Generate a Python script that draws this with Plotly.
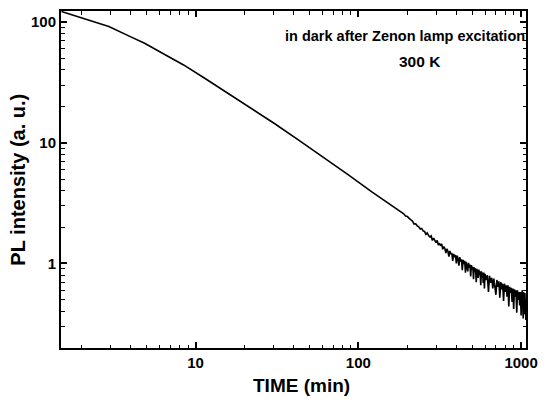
import plotly.graph_objects as go

# smooth early part
t_early = [1.5, 2.0, 2.93, 4.0, 4.86, 6.5, 8.44, 11.5, 15.3, 21, 30.5, 43, 60.9, 86, 121, 135]
pl_early = [121.8, 107.5, 91.4, 75.1, 66.5, 53.5, 44.0, 33.8, 26.4, 20.0, 14.4, 10.5, 7.62, 5.46, 3.91, 3.54]

# noisy tail (jagged band)
t_tail = [150, 155, 160, 165, 170, 175, 180, 185, 190, 195,
          200, 205, 210, 215, 220, 225, 230, 235, 240, 245,
          250, 255, 260, 265, 270, 275, 280, 285, 290, 295,
          300, 305, 310, 315, 320, 325, 330, 335, 340, 345,
          350, 355, 360, 365, 370, 375, 380, 385, 390, 395,
          400, 405, 410, 415, 420, 425, 430, 435, 440, 445,
          450, 455, 460, 465, 470, 475, 480, 485, 490, 495,
          500, 505, 510, 515, 520, 525, 530, 535, 540, 545,
          550, 555, 560, 565, 570, 575, 580, 585, 590, 595,
          600, 610, 620, 630, 640, 650, 660, 670, 680, 690,
          700, 710, 720, 730, 740, 750, 760, 770, 780, 790,
          800, 810, 820, 830, 840, 850, 860, 870, 880, 890,
          900, 910, 920, 930, 940, 950, 960, 970, 980, 990,
          1000, 1005, 1010, 1015, 1020, 1025, 1030, 1035, 1040, 1045,
          1050, 1055, 1060, 1065, 1070]
pl_tail = [3.23, 3.12, 3.04, 2.96, 2.86, 2.80, 2.70, 2.64, 2.58, 2.47,
           2.45, 2.36, 2.28, 2.24, 2.12, 2.13, 2.05, 2.01, 1.93, 1.95,
           1.86, 1.84, 1.74, 1.79, 1.70, 1.66, 1.69, 1.55, 1.62, 1.56,
           1.49, 1.55, 1.42, 1.47, 1.40, 1.45, 1.31, 1.38, 1.33, 1.22,
           1.32, 1.26, 1.14, 1.27, 1.19, 1.22, 1.05, 1.20, 1.13, 1.17,
           1.00, 1.16, 1.09, 0.96, 1.13, 1.04, 1.08, 0.88, 1.07, 0.99,
           1.05, 0.84, 1.03, 0.95, 0.86, 1.01, 0.92, 0.98, 0.78, 0.97,
           0.89, 0.94, 0.74, 0.93, 0.85, 0.91, 0.70, 0.90, 0.82, 0.76,
           0.89, 0.80, 0.86, 0.66, 0.86, 0.77, 0.84, 0.69, 0.84, 0.62,
           0.82, 0.73, 0.80, 0.58, 0.79, 0.69, 0.76, 0.62, 0.75, 0.66,
           0.55, 0.73, 0.64, 0.71, 0.52, 0.70, 0.61, 0.68, 0.49, 0.68,
           0.58, 0.66, 0.53, 0.66, 0.44, 0.64, 0.57, 0.63, 0.48, 0.62,
           0.42, 0.61, 0.53, 0.60, 0.39, 0.60, 0.50, 0.58, 0.45, 0.58,
           0.37, 0.57, 0.47, 0.60, 0.41, 0.56, 0.35, 0.58, 0.46, 0.55,
           0.38, 0.57, 0.43, 0.54, 0.34]

time_min = t_early + t_tail
intensity = pl_early + pl_tail

x_major = [10, 100, 1000]
x_major_labels = ["10", "100", "1000"]
y_major = [1, 10, 100]
y_major_labels = ["1", "10", "100"]
x_minor = [2, 3, 4, 5, 6, 7, 8, 9, 20, 30, 40, 50, 60, 70, 80, 90, 200, 300, 400, 500, 600, 700, 800, 900]
y_minor = [0.2, 0.3, 0.4, 0.5, 0.6, 0.7, 0.8, 0.9, 2, 3, 4, 5, 6, 7, 8, 9, 20, 30, 40, 50, 60, 70, 80, 90]

fig = go.Figure()
fig.add_trace(go.Scatter(x=time_min, y=intensity, mode="lines",
                         line=dict(color="black", width=1.6), showlegend=False))

font_family = "Liberation Sans, Arial, sans-serif"
axis_common = dict(type="log", showgrid=False, zeroline=False, showline=True, linecolor="black",
                   linewidth=2, mirror="allticks", ticks="inside", ticklen=6, tickwidth=1.5,
                   tickcolor="black", ticklabeloverflow="allow",
                   tickfont=dict(family=font_family, size=15, color="black"))

fig.update_xaxes(**axis_common, range=[0.173, 3.03], tickmode="array", tickvals=x_major,
                 ticktext=["<b>%s</b>" % s for s in x_major_labels],
                 minor=dict(tickmode="array", tickvals=x_minor, ticks="inside", ticklen=3.5,
                            tickwidth=1.2, tickcolor="black"))
fig.update_yaxes(**axis_common, range=[-0.70, 2.09], tickmode="array", tickvals=y_major,
                 ticktext=["<b>%s</b>" % s for s in y_major_labels],
                 minor=dict(tickmode="array", tickvals=y_minor, ticks="inside", ticklen=3.5,
                            tickwidth=1.2, tickcolor="black"))

# axis titles
fig.add_annotation(x=0.518, y=-0.112, xref="paper", yref="paper", xanchor="center", yanchor="middle",
                   text="<b>TIME (min)</b>", showarrow=False,
                   font=dict(family=font_family, size=19, color="black"))
fig.add_annotation(x=(16 - 61) / 477.0, y=0.50, xref="paper", yref="paper", xanchor="center",
                   yanchor="middle", text="<b>PL intensity (a. u.)</b>", showarrow=False, textangle=-90,
                   font=dict(family=font_family, size=20, color="black"))

fig.add_annotation(x=1.003, y=0.925, xref="paper", yref="paper", xanchor="right", yanchor="middle",
                   text="<b>in dark after Zenon lamp excitation</b>", showarrow=False,
                   font=dict(family=font_family, size=14.5, color="black"))
fig.add_annotation(x=0.772, y=0.85, xref="paper", yref="paper", xanchor="center", yanchor="middle",
                   text="<b>300 K</b>", showarrow=False,
                   font=dict(family=font_family, size=15.5, color="black"))

fig.update_layout(width=546, height=401, margin=dict(l=61, r=8, t=11, b=53),
                  paper_bgcolor="white", plot_bgcolor="white")

fig.write_html("out.html")
